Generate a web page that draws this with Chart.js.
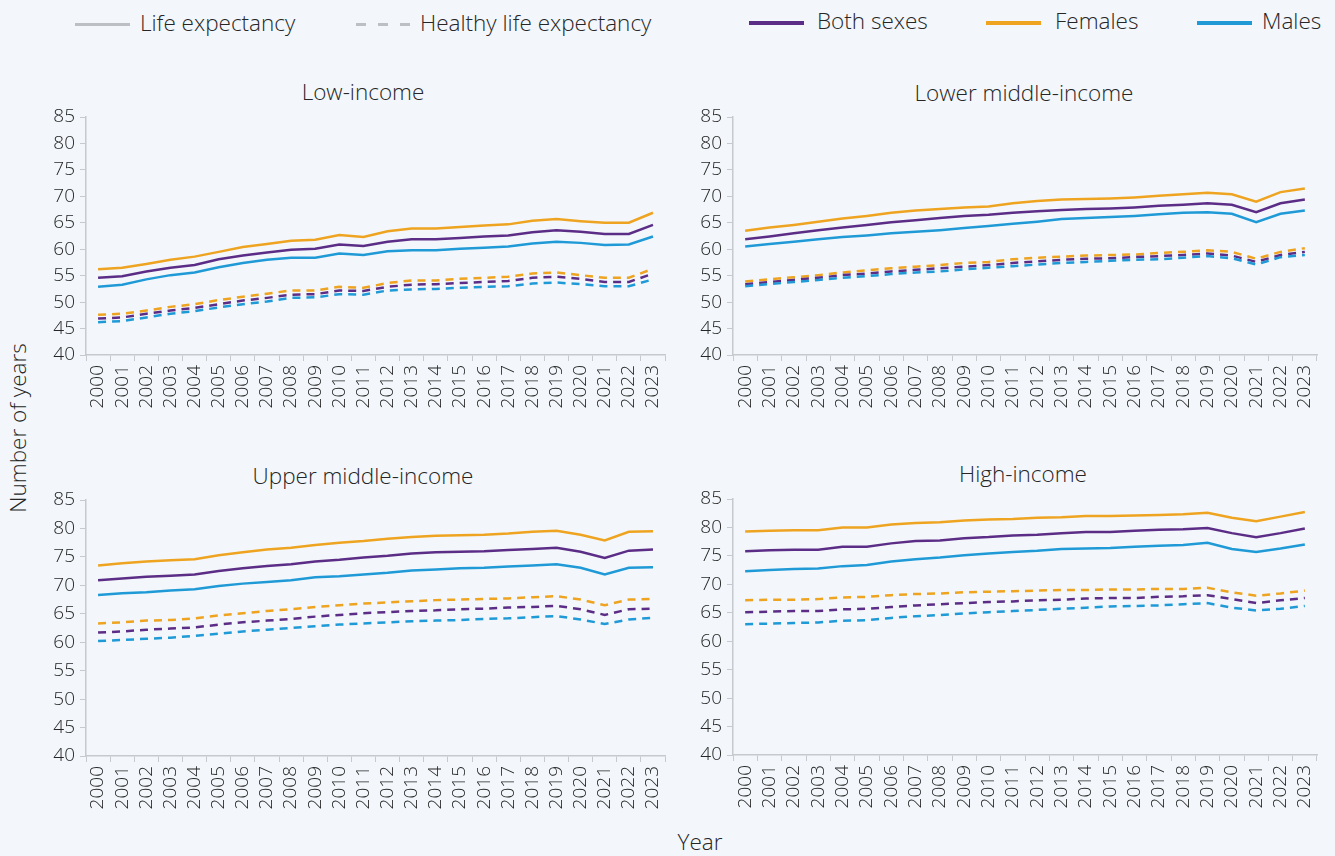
<!DOCTYPE html>
<html>
<head>
<meta charset="utf-8">
<script src="https://cdn.jsdelivr.net/npm/chart.js@4/dist/chart.umd.min.js"></script>
<style>
    body {
        margin: 0;
        background: #f3f7fb;
        font-family: "Open Sans", "Noto Sans", sans-serif;
        font-weight: 350;
        color: #262626;
    }
    .page {
        position: relative;
        width: 1335px;
        height: 856px;
        overflow: hidden;
    }
    canvas {
        position: absolute;
    }
    .txt {
        position: absolute;
        white-space: nowrap;
        font-size: 22.5px;
        line-height: 26px;
    }
    .title {
        transform: translateX(-50%);
    }
    .swatch {
        position: absolute;
        width: 55px;
    }
</style>
</head>
<body>
<div class="page">
    <!-- legend -->
    <div class="swatch" style="left:75px; top:23px; height:3px; background:#bcc0c4;"></div>
    <div class="txt" style="left:140px; top:10px;">Life expectancy</div>
    <div class="swatch" style="left:356px; top:23px; height:3px; background:repeating-linear-gradient(to right, #bcc0c4 0 10px, transparent 10px 22px);"></div>
    <div class="txt" style="left:420px; top:10px;">Healthy life expectancy</div>
    <div class="swatch" style="left:749px; top:21px; height:4px; background:#5c2d86;"></div>
    <div class="txt" style="left:817px; top:8px;">Both sexes</div>
    <div class="swatch" style="left:986px; top:21px; height:4px; background:#eea420;"></div>
    <div class="txt" style="left:1055px; top:8px;">Females</div>
    <div class="swatch" style="left:1197px; top:21px; height:4px; background:#1f9ad6;"></div>
    <div class="txt" style="left:1262px; top:8px;">Males</div>

    <!-- panel titles -->
    <div class="txt title" style="left:363px; top:79px;">Low-income</div>
    <div class="txt title" style="left:1024px; top:80px;">Lower middle-income</div>
    <div class="txt title" style="left:363px; top:463px;">Upper middle-income</div>
    <div class="txt title" style="left:1023px; top:461px;">High-income</div>

    <!-- axis titles -->
    <div class="txt" style="left:18px; top:428px; transform:translate(-50%,-50%) rotate(-90deg);">Number of years</div>
    <div class="txt" style="left:700px; top:842px; transform:translate(-50%,-50%);">Year</div>

    <canvas id="lowChart" width="640" height="335" style="left:40px; top:90px;"></canvas>
    <canvas id="lmiChart" width="645" height="335" style="left:690px; top:90px;"></canvas>
    <canvas id="umiChart" width="640" height="360" style="left:40px; top:470px;"></canvas>
    <canvas id="hiChart" width="645" height="360" style="left:690px; top:470px;"></canvas>
</div>

<script>
// Categories
const years = ['2000', '2001', '2002', '2003', '2004', '2005', '2006', '2007', '2008', '2009', '2010', '2011',
    '2012', '2013', '2014', '2015', '2016', '2017', '2018', '2019', '2020', '2021', '2022', '2023'];
const yMin = 40;
const yMax = 85;
const yStep = 5;

// Low-income
const lowLeFemales = [56.2, 56.5, 57.2, 58.0, 58.6, 59.5, 60.4, 61.0, 61.6, 61.8, 62.7, 62.3, 63.4, 63.9, 63.9, 64.2, 64.5, 64.7, 65.4, 65.7, 65.3, 65.0, 65.0, 66.9];
const lowLeBoth = [54.6, 54.9, 55.8, 56.5, 57.0, 58.1, 58.8, 59.4, 59.9, 60.1, 60.9, 60.6, 61.4, 61.9, 61.9, 62.1, 62.4, 62.6, 63.2, 63.6, 63.3, 62.9, 62.9, 64.6];
const lowLeMales = [52.9, 53.3, 54.3, 55.1, 55.6, 56.6, 57.4, 58.0, 58.4, 58.4, 59.2, 58.9, 59.6, 59.8, 59.8, 60.1, 60.3, 60.5, 61.1, 61.4, 61.2, 60.8, 60.9, 62.4];
const lowHaleFemales = [47.6, 47.8, 48.4, 49.1, 49.6, 50.4, 51.0, 51.6, 52.2, 52.2, 52.9, 52.7, 53.6, 54.1, 54.1, 54.4, 54.6, 54.8, 55.4, 55.6, 55.1, 54.6, 54.6, 56.3];
const lowHaleBoth = [46.9, 47.1, 47.8, 48.4, 48.9, 49.6, 50.3, 50.8, 51.4, 51.5, 52.2, 52.1, 52.9, 53.3, 53.4, 53.6, 53.8, 54.0, 54.6, 54.8, 54.4, 53.8, 53.8, 55.4];
const lowHaleMales = [46.2, 46.4, 47.1, 47.8, 48.3, 49.0, 49.6, 50.1, 50.8, 50.9, 51.5, 51.4, 52.2, 52.4, 52.5, 52.7, 52.9, 53.0, 53.5, 53.7, 53.4, 53.0, 53.0, 54.3];

// Lower middle-income
const lmiLeFemales = [63.5, 64.1, 64.6, 65.2, 65.8, 66.3, 66.9, 67.3, 67.6, 67.9, 68.1, 68.7, 69.1, 69.4, 69.5, 69.6, 69.8, 70.1, 70.4, 70.7, 70.4, 69.0, 70.8, 71.5];
const lmiLeBoth = [61.9, 62.4, 63.0, 63.6, 64.1, 64.6, 65.1, 65.5, 65.9, 66.3, 66.5, 66.9, 67.2, 67.4, 67.6, 67.7, 67.9, 68.2, 68.4, 68.7, 68.4, 67.0, 68.7, 69.4];
const lmiLeMales = [60.5, 61.0, 61.4, 61.9, 62.3, 62.6, 63.0, 63.3, 63.6, 64.0, 64.4, 64.8, 65.2, 65.7, 65.9, 66.1, 66.3, 66.6, 66.9, 67.0, 66.7, 65.1, 66.7, 67.3];
const lmiHaleFemales = [53.9, 54.3, 54.7, 55.1, 55.6, 56.0, 56.4, 56.7, 57.0, 57.4, 57.6, 58.1, 58.4, 58.6, 58.8, 58.9, 59.0, 59.3, 59.5, 59.8, 59.5, 58.2, 59.5, 60.2];
const lmiHaleBoth = [53.4, 53.8, 54.2, 54.6, 55.1, 55.4, 55.8, 56.1, 56.4, 56.7, 57.0, 57.4, 57.7, 58.0, 58.2, 58.3, 58.5, 58.7, 58.9, 59.2, 58.8, 57.6, 58.9, 59.5];
const lmiHaleMales = [53.0, 53.4, 53.8, 54.2, 54.6, 54.9, 55.3, 55.6, 55.8, 56.2, 56.5, 56.8, 57.1, 57.4, 57.6, 57.8, 58.0, 58.1, 58.4, 58.7, 58.3, 57.1, 58.5, 58.9];

// Upper middle-income
const umiLeFemales = [73.5, 73.9, 74.2, 74.4, 74.6, 75.3, 75.8, 76.3, 76.6, 77.1, 77.5, 77.8, 78.2, 78.5, 78.7, 78.8, 78.9, 79.1, 79.4, 79.6, 78.9, 77.9, 79.4, 79.5];
const umiLeBoth = [70.9, 71.2, 71.5, 71.7, 71.9, 72.5, 73.0, 73.4, 73.7, 74.2, 74.5, 74.9, 75.2, 75.6, 75.8, 75.9, 76.0, 76.2, 76.4, 76.6, 75.9, 74.8, 76.1, 76.3];
const umiLeMales = [68.3, 68.6, 68.8, 69.1, 69.3, 69.9, 70.3, 70.6, 70.9, 71.4, 71.6, 71.9, 72.2, 72.6, 72.8, 73.0, 73.1, 73.3, 73.5, 73.7, 73.1, 71.9, 73.1, 73.2];
const umiHaleFemales = [63.3, 63.5, 63.8, 63.9, 64.2, 64.7, 65.1, 65.5, 65.8, 66.2, 66.5, 66.8, 67.0, 67.2, 67.4, 67.5, 67.6, 67.7, 67.9, 68.1, 67.5, 66.5, 67.5, 67.6];
const umiHaleBoth = [61.7, 61.9, 62.2, 62.4, 62.6, 63.1, 63.5, 63.8, 64.1, 64.5, 64.8, 65.1, 65.3, 65.5, 65.6, 65.8, 65.9, 66.1, 66.2, 66.4, 65.8, 64.8, 65.8, 65.9];
const umiHaleMales = [60.2, 60.4, 60.6, 60.8, 61.1, 61.5, 61.9, 62.2, 62.5, 62.8, 63.1, 63.3, 63.5, 63.7, 63.8, 63.9, 64.1, 64.2, 64.4, 64.6, 64.0, 63.2, 64.0, 64.3];

// High-income
const hiLeFemales = [79.3, 79.4, 79.5, 79.5, 80.0, 80.0, 80.5, 80.8, 80.9, 81.2, 81.4, 81.5, 81.7, 81.8, 82.0, 82.0, 82.1, 82.2, 82.3, 82.6, 81.7, 81.1, 81.9, 82.7];
const hiLeBoth = [75.8, 76.0, 76.1, 76.1, 76.6, 76.6, 77.2, 77.6, 77.7, 78.1, 78.3, 78.6, 78.7, 79.0, 79.2, 79.2, 79.4, 79.6, 79.7, 79.9, 79.0, 78.3, 79.0, 79.8];
const hiLeMales = [72.3, 72.5, 72.7, 72.8, 73.2, 73.4, 74.0, 74.4, 74.7, 75.1, 75.4, 75.7, 75.9, 76.2, 76.3, 76.4, 76.6, 76.8, 76.9, 77.3, 76.2, 75.7, 76.3, 77.0];
const hiHaleFemales = [67.2, 67.3, 67.3, 67.4, 67.7, 67.8, 68.1, 68.3, 68.4, 68.6, 68.7, 68.8, 68.9, 69.0, 69.0, 69.1, 69.1, 69.2, 69.2, 69.4, 68.6, 68.0, 68.4, 68.9];
const hiHaleBoth = [65.1, 65.2, 65.3, 65.3, 65.6, 65.7, 66.0, 66.3, 66.5, 66.7, 66.9, 67.0, 67.2, 67.3, 67.5, 67.6, 67.6, 67.8, 67.9, 68.1, 67.4, 66.7, 67.2, 67.6];
const hiHaleMales = [63.0, 63.1, 63.2, 63.3, 63.6, 63.7, 64.1, 64.4, 64.6, 64.9, 65.1, 65.3, 65.5, 65.7, 65.9, 66.1, 66.2, 66.3, 66.5, 66.7, 65.9, 65.4, 65.7, 66.2];

// Colours
const colBoth = '#5c2d86';
const colFemales = '#eea420';
const colMales = '#1f9ad6';
const axisColor = '#c6cacf';
const tickColor = '#262626';
const tickFont = { family: '"Open Sans", "Noto Sans", sans-serif', size: 19, weight: 350 };

function lineSet(label, data, color, dashed) {
    return {
        label: label,
        data: data,
        borderColor: color,
        backgroundColor: color,
        borderWidth: 2.5,
        borderDash: dashed ? [8, 6] : [],
        pointRadius: 0,
        tension: 0,
        fill: false
    };
}

function makePanel(id, sets, box) {
    const ctx = document.getElementById(id);
    return new Chart(ctx, {
        type: 'line',
        data: {
            labels: years,
            datasets: [
                lineSet('Healthy life expectancy - Males', sets.haleM, colMales, true),
                lineSet('Healthy life expectancy - Both sexes', sets.haleB, colBoth, true),
                lineSet('Healthy life expectancy - Females', sets.haleF, colFemales, true),
                lineSet('Life expectancy - Males', sets.leM, colMales, false),
                lineSet('Life expectancy - Both sexes', sets.leB, colBoth, false),
                lineSet('Life expectancy - Females', sets.leF, colFemales, false)
            ]
        },
        options: {
            responsive: false,
            animation: false,
            devicePixelRatio: 1,
            layout: {
                padding: { top: box.top, right: box.right, bottom: 0, left: 0 }
            },
            plugins: {
                legend: { display: false },
                tooltip: { enabled: false },
                title: { display: false }
            },
            scales: {
                x: {
                    offset: true,
                    grid: {
                        offset: true,
                        drawOnChartArea: false,
                        drawTicks: true,
                        tickLength: 6,
                        color: axisColor
                    },
                    border: { color: axisColor, width: 1.5 },
                    ticks: {
                        autoSkip: false,
                        maxRotation: 90,
                        minRotation: 90,
                        padding: 4,
                        color: tickColor,
                        font: tickFont
                    },
                    afterFit: s => { s.height = box.xHeight; }
                },
                y: {
                    min: yMin,
                    max: yMax,
                    grid: {
                        drawOnChartArea: false,
                        drawTicks: true,
                        tickLength: 6,
                        color: axisColor
                    },
                    border: { color: axisColor, width: 1.5 },
                    ticks: {
                        stepSize: yStep,
                        padding: 5,
                        color: tickColor,
                        font: tickFont
                    },
                    afterFit: s => { s.width = box.yWidth; }
                }
            }
        }
    });
}

makePanel('lowChart', {
    leF: lowLeFemales, leB: lowLeBoth, leM: lowLeMales,
    haleF: lowHaleFemales, haleB: lowHaleBoth, haleM: lowHaleMales
}, { top: 27, right: 10, yWidth: 46, xHeight: 70 });

makePanel('lmiChart', {
    leF: lmiLeFemales, leB: lmiLeBoth, leM: lmiLeMales,
    haleF: lmiHaleFemales, haleB: lmiHaleBoth, haleM: lmiHaleMales
}, { top: 27, right: 18, yWidth: 43, xHeight: 70 });

makePanel('umiChart', {
    leF: umiLeFemales, leB: umiLeBoth, leM: umiLeMales,
    haleF: umiHaleFemales, haleB: umiHaleBoth, haleM: umiHaleMales
}, { top: 30, right: 10, yWidth: 46, xHeight: 74 });

makePanel('hiChart', {
    leF: hiLeFemales, leB: hiLeBoth, leM: hiLeMales,
    haleF: hiHaleFemales, haleB: hiHaleBoth, haleM: hiHaleMales
}, { top: 29, right: 18, yWidth: 43, xHeight: 75 });
</script>
</body>
</html>
